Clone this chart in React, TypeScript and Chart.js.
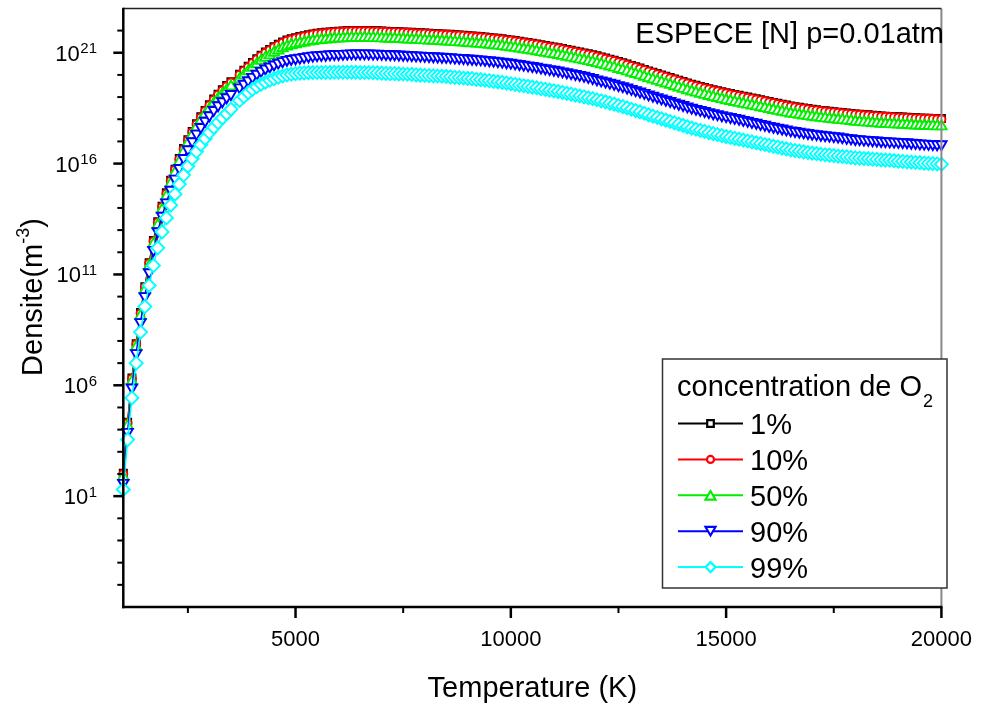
import React, { useEffect, useRef } from "react";
import { Chart, registerables } from "chart.js";

Chart.register(...registerables);

const FONT = "'Liberation Sans', Arial, Helvetica, sans-serif";

// Temperature grid (K)
const temperatureK = [
  1000, 1100, 1200, 1300, 1400, 1500, 1600, 1700, 1800, 1900,
  2000, 2100, 2200, 2300, 2400, 2500, 2600, 2700, 2800, 2900,
  3000, 3100, 3200, 3300, 3400, 3500, 3700, 3800, 3900, 4000,
  4100, 4200, 4300, 4400, 4500, 4600, 4700, 4800, 4900, 5000,
  5100, 5200, 5300, 5400, 5500, 5600, 5700, 5800, 5900, 6000,
  6100, 6200, 6300, 6400, 6500, 6600, 6700, 6800, 6900, 7000,
  7100, 7200, 7300, 7400, 7500, 7600, 7700, 7800, 7900, 8000,
  8100, 8200, 8300, 8400, 8500, 8600, 8700, 8800, 8900, 9000,
  9100, 9200, 9300, 9400, 9500, 9600, 9700, 9800, 9900, 10000,
  10100, 10200, 10300, 10400, 10500, 10600, 10700, 10800, 10900, 11000,
  11100, 11200, 11300, 11400, 11500, 11600, 11700, 11800, 11900, 12000,
  12100, 12200, 12300, 12400, 12500, 12600, 12700, 12800, 12900, 13000,
  13100, 13200, 13300, 13400, 13500, 13600, 13700, 13800, 13900, 14000,
  14100, 14200, 14300, 14400, 14500, 14600, 14700, 14800, 14900, 15000,
  15100, 15200, 15300, 15400, 15500, 15600, 15700, 15800, 15900, 16000,
  16100, 16200, 16300, 16400, 16500, 16600, 16700, 16800, 16900, 17000,
  17100, 17200, 17300, 17400, 17500, 17600, 17700, 17800, 17900, 18000,
  18100, 18200, 18300, 18400, 18500, 18600, 18700, 18800, 18900, 19000,
  19100, 19200, 19300, 19400, 19500, 19600, 19700, 19800, 19900, 20000,
];

// log10 of density (m^-3) for each O2 concentration
const logDensity1 = [
  2.03, 4.33, 6.33, 7.88, 9.28, 10.45, 11.53, 12.53, 13.38, 14.08,
  14.68, 15.25, 15.75, 16.23, 16.68, 17.08, 17.45, 17.8, 18.11, 18.4,
  18.66, 18.91, 19.13, 19.33, 19.52, 19.69, 20.03, 20.21, 20.39, 20.56,
  20.73, 20.89, 21.03, 21.15, 21.27, 21.38, 21.48, 21.57, 21.63, 21.68,
  21.73, 21.77, 21.81, 21.85, 21.88, 21.9, 21.92, 21.94, 21.96, 21.97,
  21.98, 21.99, 22.0, 22.0, 22.0, 22.0, 22.0, 21.99, 21.99, 21.98,
  21.97, 21.96, 21.96, 21.95, 21.94, 21.93, 21.92, 21.91, 21.9, 21.89,
  21.88, 21.87, 21.86, 21.85, 21.84, 21.83, 21.81, 21.8, 21.79, 21.77,
  21.76, 21.74, 21.73, 21.71, 21.69, 21.67, 21.65, 21.63, 21.6, 21.58,
  21.55, 21.52, 21.49, 21.46, 21.43, 21.4, 21.36, 21.33, 21.29, 21.26,
  21.23, 21.19, 21.15, 21.11, 21.07, 21.03, 20.99, 20.95, 20.91, 20.86,
  20.81, 20.76, 20.71, 20.66, 20.6, 20.55, 20.49, 20.43, 20.37, 20.31,
  20.25, 20.18, 20.12, 20.06, 20.0, 19.94, 19.88, 19.82, 19.76, 19.7,
  19.64, 19.58, 19.53, 19.48, 19.43, 19.38, 19.33, 19.29, 19.24, 19.2,
  19.16, 19.12, 19.08, 19.04, 19.0, 18.96, 18.92, 18.88, 18.84, 18.8,
  18.76, 18.72, 18.68, 18.64, 18.6, 18.57, 18.54, 18.51, 18.48, 18.45,
  18.43, 18.4, 18.38, 18.36, 18.34, 18.32, 18.3, 18.28, 18.26, 18.24,
  18.23, 18.21, 18.2, 18.18, 18.17, 18.15, 18.14, 18.13, 18.12, 18.11,
  18.1, 18.09, 18.08, 18.07, 18.06, 18.05, 18.05, 18.04, 18.03, 18.03,
];

const logDensity10 = [
  2.0, 4.3, 6.3, 7.85, 9.25, 10.42, 11.5, 12.5, 13.35, 14.05,
  14.65, 15.22, 15.72, 16.2, 16.65, 17.05, 17.42, 17.77, 18.08, 18.37,
  18.63, 18.88, 19.1, 19.3, 19.49, 19.66, 20.0, 20.18, 20.36, 20.53,
  20.7, 20.86, 21.0, 21.12, 21.24, 21.35, 21.45, 21.54, 21.6, 21.65,
  21.7, 21.74, 21.78, 21.82, 21.85, 21.87, 21.89, 21.91, 21.93, 21.94,
  21.95, 21.96, 21.97, 21.97, 21.97, 21.97, 21.97, 21.96, 21.96, 21.95,
  21.94, 21.93, 21.93, 21.92, 21.91, 21.9, 21.89, 21.88, 21.87, 21.86,
  21.85, 21.84, 21.83, 21.82, 21.81, 21.8, 21.78, 21.77, 21.76, 21.74,
  21.73, 21.71, 21.7, 21.68, 21.66, 21.64, 21.62, 21.6, 21.57, 21.55,
  21.52, 21.49, 21.46, 21.43, 21.4, 21.37, 21.33, 21.3, 21.26, 21.23,
  21.2, 21.16, 21.12, 21.08, 21.04, 21.0, 20.96, 20.92, 20.88, 20.83,
  20.78, 20.73, 20.68, 20.63, 20.57, 20.52, 20.46, 20.4, 20.34, 20.28,
  20.22, 20.15, 20.09, 20.03, 19.97, 19.91, 19.85, 19.79, 19.73, 19.67,
  19.61, 19.55, 19.5, 19.45, 19.4, 19.35, 19.3, 19.26, 19.21, 19.17,
  19.13, 19.09, 19.05, 19.01, 18.97, 18.93, 18.89, 18.85, 18.81, 18.77,
  18.73, 18.69, 18.65, 18.61, 18.57, 18.54, 18.51, 18.48, 18.45, 18.42,
  18.4, 18.37, 18.35, 18.33, 18.31, 18.29, 18.27, 18.25, 18.23, 18.21,
  18.2, 18.18, 18.17, 18.15, 18.14, 18.12, 18.11, 18.1, 18.09, 18.08,
  18.07, 18.06, 18.05, 18.04, 18.03, 18.02, 18.02, 18.01, 18.0, 18.0,
];

const logDensity50 = [
  1.87, 4.17, 6.17, 7.72, 9.12, 10.29, 11.37, 12.37, 13.22, 13.92,
  14.52, 15.09, 15.59, 16.07, 16.52, 16.92, 17.28, 17.63, 17.93, 18.22,
  18.47, 18.72, 18.93, 19.13, 19.31, 19.48, 19.81, 19.98, 20.16, 20.32,
  20.48, 20.64, 20.77, 20.88, 21.0, 21.1, 21.2, 21.28, 21.34, 21.38,
  21.43, 21.46, 21.5, 21.53, 21.56, 21.57, 21.59, 21.61, 21.63, 21.64,
  21.65, 21.66, 21.67, 21.67, 21.67, 21.67, 21.67, 21.66, 21.66, 21.65,
  21.64, 21.63, 21.63, 21.62, 21.61, 21.6, 21.59, 21.58, 21.57, 21.56,
  21.55, 21.54, 21.53, 21.52, 21.51, 21.5, 21.48, 21.47, 21.46, 21.44,
  21.43, 21.41, 21.4, 21.38, 21.36, 21.34, 21.32, 21.3, 21.27, 21.25,
  21.22, 21.19, 21.16, 21.13, 21.1, 21.07, 21.03, 21.0, 20.96, 20.93,
  20.9, 20.86, 20.82, 20.78, 20.74, 20.7, 20.66, 20.62, 20.58, 20.53,
  20.48, 20.43, 20.38, 20.33, 20.27, 20.22, 20.16, 20.1, 20.04, 19.98,
  19.92, 19.85, 19.79, 19.73, 19.67, 19.61, 19.55, 19.49, 19.43, 19.37,
  19.31, 19.25, 19.2, 19.15, 19.1, 19.05, 19.0, 18.96, 18.91, 18.86,
  18.82, 18.78, 18.74, 18.7, 18.66, 18.62, 18.58, 18.54, 18.5, 18.46,
  18.42, 18.38, 18.34, 18.3, 18.26, 18.23, 18.2, 18.17, 18.14, 18.11,
  18.09, 18.06, 18.04, 18.02, 18.0, 17.98, 17.96, 17.94, 17.92, 17.89,
  17.88, 17.86, 17.85, 17.83, 17.82, 17.8, 17.79, 17.78, 17.77, 17.76,
  17.75, 17.74, 17.73, 17.72, 17.71, 17.7, 17.7, 17.69, 17.68, 17.68,
];

const logDensity90 = [
  1.6, 3.9, 5.9, 7.45, 8.85, 10.02, 11.1, 12.1, 12.95, 13.65,
  14.25, 14.82, 15.32, 15.8, 16.25, 16.65, 17.01, 17.35, 17.65, 17.93,
  18.18, 18.42, 18.63, 18.81, 18.99, 19.14, 19.44, 19.6, 19.76, 19.91,
  20.05, 20.18, 20.29, 20.38, 20.47, 20.55, 20.62, 20.68, 20.72, 20.75,
  20.78, 20.81, 20.84, 20.87, 20.89, 20.9, 20.91, 20.93, 20.94, 20.94,
  20.95, 20.96, 20.97, 20.97, 20.97, 20.97, 20.97, 20.96, 20.96, 20.95,
  20.94, 20.93, 20.93, 20.92, 20.91, 20.9, 20.89, 20.88, 20.87, 20.86,
  20.85, 20.84, 20.83, 20.82, 20.81, 20.8, 20.78, 20.77, 20.76, 20.74,
  20.73, 20.71, 20.7, 20.68, 20.66, 20.64, 20.62, 20.6, 20.57, 20.55,
  20.52, 20.49, 20.46, 20.43, 20.4, 20.37, 20.33, 20.3, 20.26, 20.23,
  20.2, 20.16, 20.12, 20.08, 20.04, 20.0, 19.96, 19.91, 19.86, 19.8,
  19.75, 19.7, 19.65, 19.6, 19.54, 19.49, 19.43, 19.37, 19.31, 19.25,
  19.19, 19.12, 19.06, 19.0, 18.94, 18.88, 18.82, 18.76, 18.7, 18.64,
  18.58, 18.52, 18.47, 18.42, 18.37, 18.32, 18.27, 18.23, 18.18, 18.14,
  18.1, 18.06, 18.02, 17.97, 17.93, 17.88, 17.84, 17.79, 17.75, 17.7,
  17.66, 17.62, 17.58, 17.54, 17.5, 17.47, 17.44, 17.41, 17.38, 17.35,
  17.33, 17.3, 17.28, 17.26, 17.24, 17.22, 17.19, 17.16, 17.14, 17.11,
  17.1, 17.08, 17.07, 17.05, 17.04, 17.02, 17.01, 17.0, 16.99, 16.98,
  16.97, 16.96, 16.94, 16.93, 16.91, 16.9, 16.89, 16.88, 16.87, 16.87,
];

const logDensity99 = [
  1.3, 3.55, 5.43, 7.0, 8.4, 9.55, 10.5, 11.4, 12.2, 12.92,
  13.55, 14.12, 14.62, 15.07, 15.48, 15.88, 16.22, 16.54, 16.85, 17.13,
  17.4, 17.63, 17.85, 18.06, 18.25, 18.45, 18.85, 19.02, 19.2, 19.35,
  19.47, 19.58, 19.67, 19.76, 19.83, 19.9, 19.95, 20.0, 20.03, 20.06,
  20.08, 20.09, 20.1, 20.11, 20.11, 20.11, 20.11, 20.11, 20.12, 20.12,
  20.12, 20.12, 20.12, 20.12, 20.11, 20.11, 20.11, 20.1, 20.09, 20.08,
  20.07, 20.06, 20.06, 20.05, 20.04, 20.03, 20.02, 20.0, 19.99, 19.98,
  19.97, 19.96, 19.95, 19.94, 19.93, 19.91, 19.89, 19.88, 19.86, 19.84,
  19.83, 19.8, 19.79, 19.76, 19.74, 19.71, 19.69, 19.66, 19.63, 19.6,
  19.57, 19.54, 19.51, 19.48, 19.45, 19.42, 19.38, 19.35, 19.31, 19.28,
  19.25, 19.21, 19.17, 19.13, 19.09, 19.05, 19.01, 18.97, 18.93, 18.88,
  18.83, 18.78, 18.73, 18.68, 18.62, 18.57, 18.51, 18.45, 18.39, 18.33,
  18.27, 18.2, 18.14, 18.08, 18.02, 17.96, 17.9, 17.84, 17.78, 17.72,
  17.66, 17.6, 17.55, 17.5, 17.45, 17.4, 17.35, 17.31, 17.26, 17.22,
  17.18, 17.14, 17.1, 17.06, 17.02, 16.98, 16.94, 16.9, 16.86, 16.82,
  16.78, 16.74, 16.7, 16.66, 16.62, 16.59, 16.56, 16.53, 16.5, 16.47,
  16.45, 16.42, 16.4, 16.38, 16.36, 16.34, 16.32, 16.3, 16.28, 16.26,
  16.25, 16.23, 16.22, 16.2, 16.19, 16.17, 16.16, 16.15, 16.13, 16.11,
  16.1, 16.08, 16.07, 16.05, 16.04, 16.02, 16.01, 16.0, 15.99, 15.97,
];

const seriesLabels = ["1%", "10%", "50%", "90%", "99%"];
const seriesLogs = [logDensity1, logDensity10, logDensity50, logDensity90, logDensity99];
const seriesColors = ["#000000", "#ff0000", "#00ee00", "#0000ff", "#00ffff"];
const seriesPointStyles = ["rect", "circle", "triangle", "triangle", "rectRot"];
const seriesPointRotations = [0, 0, 0, 180, 0];
const seriesPointRadii = [5, 4, 6, 6, 6.5];

const xMajorTicks = [5000, 10000, 15000, 20000];
const xMinorTicks = [2500, 7500, 12500, 17500];
const yMajorExponents = [1, 6, 11, 16, 21];
const yMinorExponents = [-3, -2, -1, 0, 2, 3, 4, 5, 7, 8, 9, 10, 12, 13, 14, 15, 17, 18, 19, 20, 22];

const chartTitle = "ESPECE [N] p=0.01atm";
const xTitle = "Temperature (K)";
const yTitleMain = "Densite(m";
const yTitleSup = "-3";
const yTitleEnd = ")";
const legendTitle = "concentration de O";
const legendTitleSub = "2";

function drawMarker(ctx: CanvasRenderingContext2D, style: string, rot: number, x: number, y: number, r: number) {
  ctx.beginPath();
  if (style === "rect") {
    ctx.rect(x - r, y - r, 2 * r, 2 * r);
  } else if (style === "circle") {
    ctx.arc(x, y, r, 0, Math.PI * 2);
  } else if (style === "triangle") {
    const h = r * 1.7;
    if (rot === 180) {
      ctx.moveTo(x - r, y - h / 2);
      ctx.lineTo(x + r, y - h / 2);
      ctx.lineTo(x, y + h / 2);
    } else {
      ctx.moveTo(x - r, y + h / 2);
      ctx.lineTo(x + r, y + h / 2);
      ctx.lineTo(x, y - h / 2);
    }
    ctx.closePath();
  } else if (style === "rectRot") {
    ctx.moveTo(x - r, y);
    ctx.lineTo(x, y - r);
    ctx.lineTo(x + r, y);
    ctx.lineTo(x, y + r);
    ctx.closePath();
  }
  ctx.fill();
  ctx.stroke();
}

const decorPlugin = {
  id: "decor",
  afterDatasetsDraw(chart: any) {
    const ctx: CanvasRenderingContext2D = chart.ctx;
    const a = chart.chartArea;
    const xs = chart.scales.x;
    const ys = chart.scales.y;
    ctx.save();

    const seg = (x1: number, y1: number, x2: number, y2: number) => {
      ctx.beginPath();
      ctx.moveTo(x1, y1);
      ctx.lineTo(x2, y2);
      ctx.stroke();
    };

    // frame
    ctx.lineCap = "butt";
    ctx.strokeStyle = "#888888";
    ctx.lineWidth = 2;
    seg(a.right, a.top, a.right, a.bottom);
    ctx.strokeStyle = "#222222";
    ctx.lineWidth = 1.5;
    seg(a.left, a.top, a.right, a.top);
    ctx.strokeStyle = "#000000";
    ctx.lineWidth = 2.5;
    seg(a.left, a.top - 0.75, a.left, a.bottom + 1.25);
    seg(a.left - 1.25, a.bottom, a.right + 1, a.bottom);

    // x ticks
    ctx.lineWidth = 2.5;
    for (const v of xMajorTicks) {
      const px = xs.getPixelForValue(v);
      seg(px, a.bottom, px, a.bottom + 11);
    }
    ctx.lineWidth = 2;
    for (const v of xMinorTicks) {
      const px = xs.getPixelForValue(v);
      seg(px, a.bottom, px, a.bottom + 6);
    }
    // y ticks
    ctx.lineWidth = 2.5;
    for (const e of yMajorExponents) {
      const py = ys.getPixelForValue(Math.pow(10, e));
      seg(a.left - 10, py, a.left, py);
    }
    ctx.lineWidth = 2;
    for (const e of yMinorExponents) {
      const py = ys.getPixelForValue(Math.pow(10, e));
      seg(a.left - 6, py, a.left, py);
    }

    // y tick labels 10^n
    ctx.fillStyle = "#000000";
    ctx.textBaseline = "alphabetic";
    ctx.textAlign = "right";
    const labelRight = 97;
    for (const e of yMajorExponents) {
      const py = ys.getPixelForValue(Math.pow(10, e));
      const ex = String(e);
      ctx.font = `15px ${FONT}`;
      const w = ctx.measureText(ex).width;
      ctx.fillText(ex, labelRight, py + 0.5);
      ctx.font = `22px ${FONT}`;
      ctx.fillText("10", labelRight - w - 0.5, py + 8);
    }

    // x title
    ctx.textAlign = "center";
    ctx.font = `29px ${FONT}`;
    ctx.fillText(xTitle, (a.left + a.right) / 2, 697);

    // y title (rotated)
    ctx.save();
    ctx.translate(42, 297);
    ctx.rotate(-Math.PI / 2);
    ctx.textAlign = "left";
    ctx.font = `29px ${FONT}`;
    const w1 = ctx.measureText(yTitleMain).width;
    const w3 = ctx.measureText(yTitleEnd).width;
    ctx.font = `18px ${FONT}`;
    const w2 = ctx.measureText(yTitleSup).width;
    const x0 = -(w1 + w2 + w3) / 2;
    ctx.font = `29px ${FONT}`;
    ctx.fillText(yTitleMain, x0, 0);
    ctx.fillText(yTitleEnd, x0 + w1 + w2, 0);
    ctx.font = `18px ${FONT}`;
    ctx.fillText(yTitleSup, x0 + w1, -13);
    ctx.restore();

    // annotation
    ctx.textAlign = "right";
    ctx.font = `29px ${FONT}`;
    ctx.fillText(chartTitle, 944, 42.5);

    // legend
    const lx = 662.5, ly = 359, lw = 284.5, lh = 229;
    ctx.fillStyle = "#ffffff";
    ctx.fillRect(lx, ly, lw, lh);
    ctx.strokeStyle = "#333333";
    ctx.lineWidth = 1.5;
    ctx.strokeRect(lx, ly, lw, lh);
    ctx.fillStyle = "#000000";
    ctx.textAlign = "left";
    ctx.font = `29px ${FONT}`;
    ctx.fillText(legendTitle, 677, 396);
    const tw = ctx.measureText(legendTitle).width;
    ctx.font = `18px ${FONT}`;
    ctx.fillText(legendTitleSub, 677 + tw + 1, 407);

    seriesLabels.forEach((lab, i) => {
      const yy = 423.5 + i * 35.9;
      ctx.strokeStyle = seriesColors[i];
      ctx.lineWidth = 2;
      seg(678, yy, 743, yy);
      ctx.fillStyle = "#ffffff";
      const st = seriesPointStyles[i];
      const r = st === "rect" ? 3.3 : st === "circle" ? 3.5 : 5;
      ctx.lineWidth = 2.2;
      drawMarker(ctx, st, seriesPointRotations[i], 710.5, yy, r);
      ctx.fillStyle = "#000000";
      ctx.font = `29px ${FONT}`;
      ctx.fillText(lab, 750, yy + 10.5);
    });

    ctx.restore();
  },
};

export default function App() {
  const canvasRef = useRef<HTMLCanvasElement | null>(null);

  useEffect(() => {
    const canvas = canvasRef.current;
    if (!canvas) return;
    const datasets = seriesLabels.map((label, i) => ({
      label,
      data: temperatureK.map((t, j) => ({ x: t, y: Math.pow(10, seriesLogs[i][j]) })),
      borderColor: seriesColors[i],
      backgroundColor: "#ffffff",
      borderWidth: 1.5,
      pointStyle: seriesPointStyles[i],
      pointRotation: seriesPointRotations[i],
      pointRadius: seriesPointRadii[i],
      pointBorderWidth: 1.9,
      pointBorderColor: seriesColors[i],
      pointBackgroundColor: "#ffffff",
      tension: 0,
      clip: false,
      order: 5 - i,
    }));

    const chart = new Chart(canvas, {
      type: "line",
      data: { datasets },
      options: {
        responsive: false,
        animation: false,
        devicePixelRatio: 1,
        layout: { padding: { left: 0, right: 38, top: 8, bottom: 0 } },
        plugins: {
          legend: { display: false },
          tooltip: { enabled: false },
          title: { display: false },
        },
        scales: {
          x: {
            type: "linear",
            min: 1000,
            max: 20000,
            grid: { display: false, drawTicks: false },
            border: { display: false },
            ticks: {
              color: "#000000",
              font: { family: FONT, size: 22 },
              padding: 20,
              maxRotation: 0,
              autoSkip: false,
              callback: (v: any) => String(v),
            },
            afterBuildTicks: (s: any) => {
              s.ticks = xMajorTicks.map((v) => ({ value: v }));
            },
            afterFit: (s: any) => {
              s.height = 102;
            },
          },
          y: {
            type: "logarithmic",
            min: 1e-4,
            max: 1e23,
            grid: { display: false, drawTicks: false },
            border: { display: false },
            ticks: { display: false },
            afterFit: (s: any) => {
              s.width = 123.3;
            },
          },
        },
      } as any,
      plugins: [decorPlugin],
    });
    return () => chart.destroy();
  }, []);

  return (
    <div style={{ position: "fixed", left: 0, top: 0, width: 992, height: 709, background: "#ffffff" }}>
      <canvas ref={canvasRef} width={992} height={709} style={{ display: "block" }} />
    </div>
  );
}
